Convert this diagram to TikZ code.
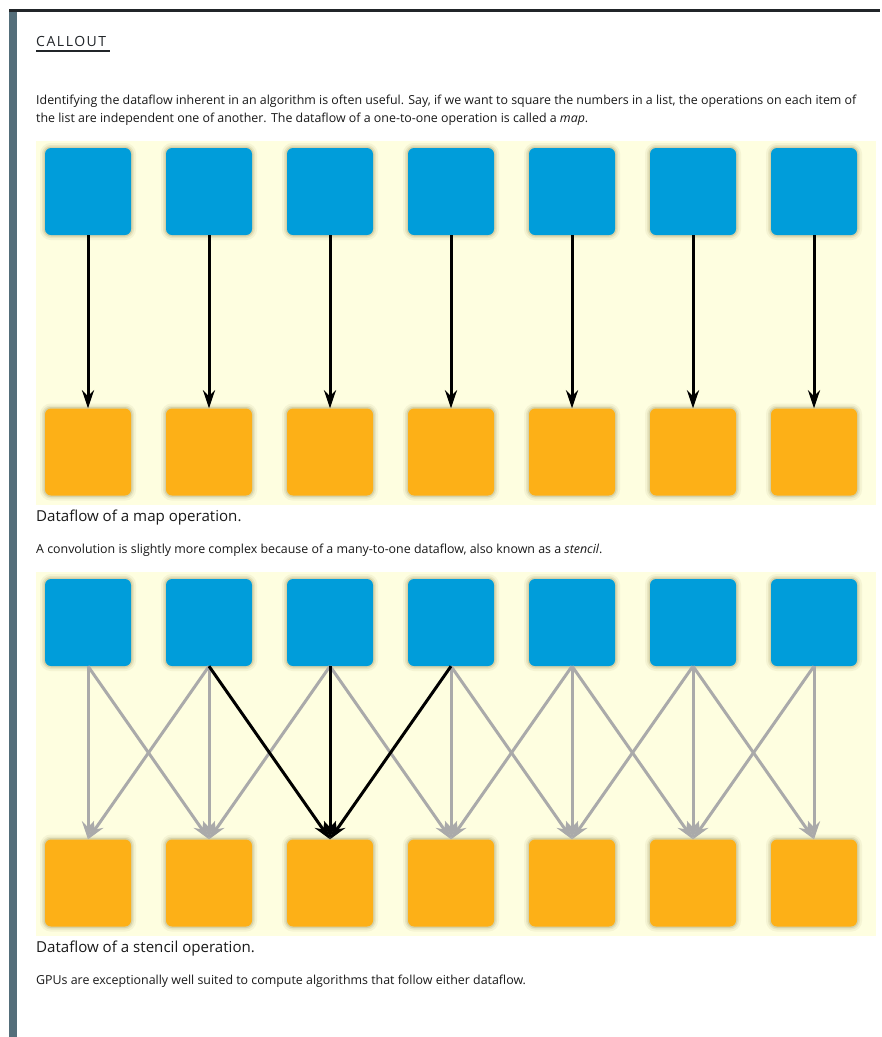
\documentclass[tikz,border=0pt]{standalone}
\usepackage{fontspec}
\setmainfont{Open Sans}
\usetikzlibrary{arrows.meta}
\definecolor{panel}{RGB}{254,254,224}
\definecolor{bluebox}{RGB}{0,157,218}
\definecolor{orangebox}{RGB}{253,176,23}
\definecolor{barc}{RGB}{84,110,122}
\definecolor{topline}{RGB}{33,37,41}
\definecolor{grayarrow}{RGB}{170,170,170}
\definecolor{shadowc}{RGB}{140,130,70}
\definecolor{textc}{RGB}{25,25,25}
\tikzset{
  boxbase/.style={minimum width=86pt, minimum height=87pt, inner sep=0pt, rounded corners=6pt,
    preaction={draw=shadowc, draw opacity=0.08, line width=10pt},
    preaction={draw=shadowc, draw opacity=0.12, line width=6pt},
    preaction={draw=shadowc, draw opacity=0.20, line width=3pt}},
  inbox/.style={boxbase, fill=bluebox},
  outbox/.style={boxbase, fill=orangebox},
  darrow/.style={line width=3pt, draw=black, -{Stealth[length=18pt, width=12pt, inset=6pt]}},
  garrow/.style={line width=3pt, draw=grayarrow, -{Stealth[length=18pt, width=12pt, inset=6pt]}},
  bodytext/.style={anchor=base west, inner sep=0pt, text=textc, font=\fontsize{12.4}{14}\selectfont},
  captext/.style={anchor=base west, inner sep=0pt, text=textc, font=\fontsize{15.1}{17}\selectfont},
}
\begin{document}
\begin{tikzpicture}[x=1pt,y=-1pt]
\useasboundingbox (0,0) rectangle (882,1037);
\fill[white] (0,0) rectangle (882,1037);
% frame
\fill[barc] (9,9) rectangle (16.5,1037);
\draw[topline, line width=3pt] (9,10.5) -- (880,10.5);
% heading
\node[anchor=base west, inner sep=0pt, text=topline, font=\fontsize{14}{16}\selectfont\addfontfeature{LetterSpace=11}] (callout) at (36,46) {CALLOUT};
\coordinate (ulA) at (36,51);
\coordinate (ulB) at (110,51);
\draw[topline, line width=1.3pt] (ulA) -- (ulB);
% paragraph 1
\node[bodytext] (p1a) at (36,104) {Identifying the dataflow inherent in an algorithm is often useful. Say, if we want to square the numbers in a list, the operations on each item of};
\node[bodytext] (p1b) at (36,122) {the list are independent one of another. The dataflow of a one-to-one operation is called a \textit{map}.};
% panel 1
\fill[panel] (36,141) rectangle (876,505);
\foreach \i in {1,...,7}{
  \node[inbox] (T\i) at ({88+121*(\i-1)},191.5) {};
  \node[outbox] (B\i) at ({88+121*(\i-1)},452) {};
}
\foreach \i in {1,...,7}{
  \draw[darrow] (T\i.south) -- (B\i.north);
}
\node[captext] (cap1) at (36,521) {Dataflow of a map operation.};
\node[bodytext] (p2) at (36,553) {A convolution is slightly more complex because of a many-to-one dataflow, also known as a \textit{stencil}.};
% panel 2
\fill[panel] (36,572) rectangle (876,936);
\foreach \i in {1,...,7}{
  \node[inbox] (S\i) at ({88+121*(\i-1)},622.5) {};
  \node[outbox] (R\i) at ({88+121*(\i-1)},883) {};
}
\foreach \i in {1,2,4,5,6,7}{
  \pgfmathtruncatemacro{\lo}{max(1,\i-1)}
  \pgfmathtruncatemacro{\hi}{min(7,\i+1)}
  \foreach \j in {\lo,...,\hi}{
    \draw[garrow] (S\j.south) -- (R\i.north);
  }
}
\foreach \j in {2,3,4}{
  \draw[darrow] (S\j.south) -- (R3.north);
}
\node[captext] (cap2) at (36,952) {Dataflow of a stencil operation.};
\node[bodytext] (p3) at (36,984) {GPUs are exceptionally well suited to compute algorithms that follow either dataflow.};
\end{tikzpicture}
\end{document}
